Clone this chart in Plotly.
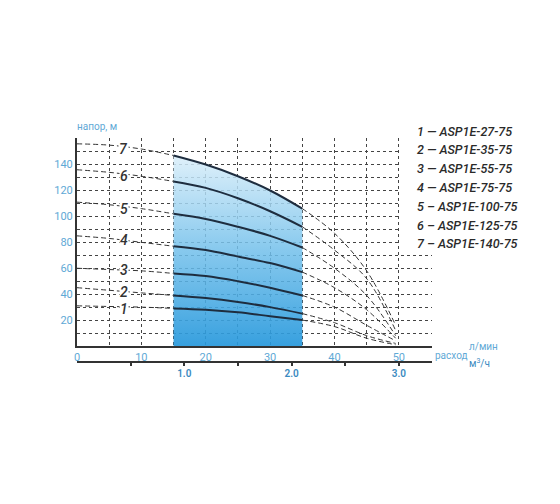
import plotly.graph_objects as go

# flow in l/min, head in m
flow = [0, 5, 10, 15, 20, 25, 30, 35, 40, 45, 49.5]

head_1 = [31, 30.5, 30, 29, 28, 26, 23, 20, 15, 6, 1]
head_2 = [45, 43, 41, 39, 37, 34, 30, 25, 18, 8, 2]
head_3 = [60, 59, 58, 56, 54, 50, 45, 39, 30, 16, 4]
head_4 = [85, 83, 80, 77, 74, 69, 64, 57, 45, 28, 6]
head_5 = [111, 109, 106, 102, 98, 92, 85, 76, 60, 39, 8]
head_6 = [136, 134, 131, 127, 122, 114, 104, 92, 74, 52, 12]
head_7 = [156, 155, 152, 147, 140, 131, 120, 106, 87, 58, 16]

heads = [head_1, head_2, head_3, head_4, head_5, head_6, head_7]
curve_numbers = ['1', '2', '3', '4', '5', '6', '7']
label_flow = 7.3
label_head = [28.5, 42, 58.5, 81.5, 106, 131.5, 152]

models = ['1 — ASP1E-27-75', '2 — ASP1E-35-75', '3 — ASP1E-55-75', '4 — ASP1E-75-75',
          '5 – ASP1E-100-75', '6 – ASP1E-125-75', '7 – ASP1E-140-75']

y_ticks = [20, 40, 60, 80, 100, 120, 140]
x_ticks = [0, 10, 20, 30, 40, 50]
m3h_ticks = [0.5, 1.0, 1.5, 2.0, 2.5, 3.0]
m3h_text = ['', '1.0', '', '2.0', '', '3.0']

# working range (solid part of the curves)
i_start = flow.index(15)
i_end = flow.index(35)

blue = '#5fa9d6'
dark = '#1e2d3f'

fig = go.Figure()

# shaded working zone under the top curve
fig.add_trace(go.Scatter(
    x=flow[i_start:i_end + 1], y=head_7[i_start:i_end + 1],
    mode='lines', line=dict(width=0, shape='spline'),
    fill='tozeroy',
    fillgradient=dict(type='vertical', start=0, stop=150,
                      colorscale=[[0, 'rgba(38,152,220,0.92)'],
                                  [0.5, 'rgba(115,192,235,0.85)'],
                                  [1, 'rgba(222,240,250,0.85)']]),
    hoverinfo='skip', showlegend=False))

for h in heads:
    # dashed left part
    fig.add_trace(go.Scatter(x=flow[:i_start + 1], y=h[:i_start + 1], mode='lines',
                             line=dict(color='#333', width=1, dash='5px,3px', shape='spline'),
                             showlegend=False))
    # solid working part
    fig.add_trace(go.Scatter(x=flow[i_start:i_end + 1], y=h[i_start:i_end + 1], mode='lines',
                             line=dict(color=dark, width=2, shape='spline'),
                             showlegend=False))
    # dashed right part
    fig.add_trace(go.Scatter(x=flow[i_end:], y=h[i_end:], mode='lines',
                             line=dict(color='#333', width=1, dash='5px,3px', shape='spline'),
                             showlegend=False))

# empty trace so the m3/h scale gets drawn
fig.add_trace(go.Scatter(x=m3h_ticks, y=[None] * len(m3h_ticks), xaxis='x2',
                         mode='lines', showlegend=False, hoverinfo='skip'))

# blank out the grid behind the model list
fig.add_shape(type='rect', x0=50.15, x1=56, y0=70.6, y1=162, layer='between',
              fillcolor='white', line=dict(width=0))

# curve numbers
for num, hy in zip(curve_numbers, label_head):
    fig.add_annotation(x=label_flow, y=hy, text=num, showarrow=False,
                       font=dict(family='Roboto', size=14, color='#333', style='italic',
                                 weight=500),
                       bgcolor='white', borderpad=0)

# model list on the right
for i, m in enumerate(models):
    fig.add_annotation(xref='paper', yref='paper', x=0.952, y=1.031 - i * 0.084,
                       xanchor='left', yanchor='middle', text=m, showarrow=False,
                       font=dict(family='Roboto', size=12.5, color='#2a2a2a',
                                 style='italic', weight=500))

# axis captions
fig.add_annotation(xref='paper', yref='paper', x=-0.005, y=1.02, xanchor='left',
                   yanchor='bottom', text='напор, м', showarrow=False,
                   font=dict(family='Roboto', size=10, color=blue))
fig.add_annotation(xref='paper', yref='paper', x=1.004, y=0.031, xanchor='left',
                   yanchor='middle', text='расход', showarrow=False,
                   font=dict(family='Roboto', size=10, color=blue))
fig.add_annotation(xref='paper', yref='paper', x=1.098, y=0.07, xanchor='left',
                   yanchor='middle', text='л/мин', showarrow=False,
                   font=dict(family='Roboto', size=10, color=blue))
fig.add_annotation(xref='paper', yref='paper', x=1.098, y=-0.006, xanchor='left',
                   yanchor='middle', text='м<sup>3</sup>/ч', showarrow=False,
                   font=dict(family='Roboto', size=10, color='#3a8ac0'))

grid = dict(showgrid=True, gridcolor='#444', griddash='dot', gridwidth=1)

fig.update_layout(
    width=560, height=504,
    plot_bgcolor='white', paper_bgcolor='white',
    margin=dict(l=69, r=136, t=130, b=150),
    showlegend=False,
    font=dict(family='Roboto'),
    xaxis=dict(range=[0, 55.15], tickmode='array', tickvals=x_ticks,
               tickfont=dict(size=11, color=blue), ticks='',
               showline=True, linecolor='#333', linewidth=2,
               zeroline=False, anchor='y',
               minor=dict(tickmode='linear', tick0=0, dtick=5, **grid), **grid),
    yaxis=dict(range=[0, 160.5], domain=[0.0714, 1], tickmode='array', tickvals=y_ticks,
               tickfont=dict(size=11, color=blue), ticks='',
               showline=True, linecolor='#333', linewidth=2,
               zeroline=False,
               minor=dict(tickmode='linear', tick0=0, dtick=10, **grid), **grid),
    xaxis2=dict(range=[0, 55.15 / 16.667], overlaying='x', anchor='free', position=0,
                side='bottom', tickmode='array', tickvals=m3h_ticks, ticktext=m3h_text,
                ticks='outside', ticklen=3, tickcolor='#333', tickwidth=2,
                ticklabelstandoff=-1,
                tickfont=dict(size=10, color='#3a8ac0', weight=600),
                showline=True, linecolor='#333', linewidth=1.5, showgrid=False,
                zeroline=False),
)

fig.write_html("out.html")
